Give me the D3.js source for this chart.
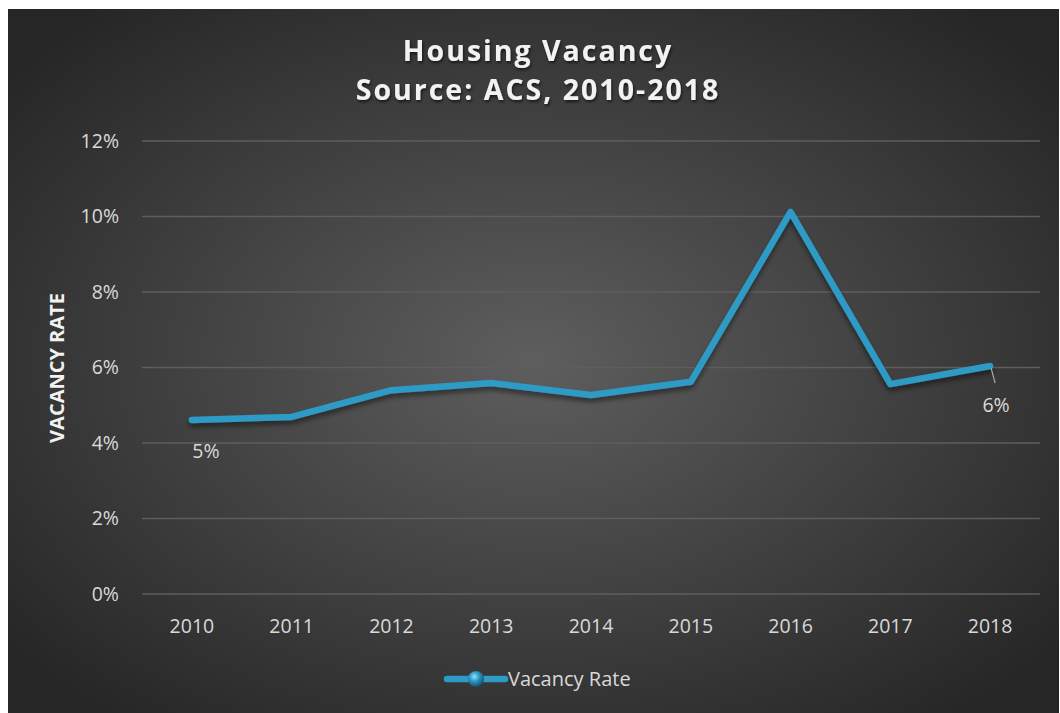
<!DOCTYPE html>
<html>
<head>
<meta charset="utf-8">
<script src="https://cdn.jsdelivr.net/npm/d3@7"></script>
<style>
    body { margin: 0; background: #fff; }
    svg { display: block; font-family: "Open Sans", sans-serif; }
</style>
</head>
<body>
<svg class="linechart" width="1060" height="713"></svg>
<script>
(function () {

    'use strict';

    var years = ['2010', '2011', '2012', '2013', '2014', '2015', '2016', '2017', '2018'];
    var vacancy = [0.0461, 0.0469, 0.0540, 0.0559, 0.0527, 0.0562, 0.1012, 0.0556, 0.0604];
    var yTicks = [0, 0.02, 0.04, 0.06, 0.08, 0.10, 0.12];
    var labelled = ['2010', '2018'];

    var svg = d3.select("svg.linechart");
    var defs = svg.append("defs");

    var grad = defs.append("radialGradient")
        .attr("id", "bg")
        .attr("cx", "50%").attr("cy", "50%").attr("r", "65%");
    grad.append("stop").attr("offset", "0%").attr("stop-color", "#5e5e5e");
    grad.append("stop").attr("offset", "100%").attr("stop-color", "#262626");

    var shadow = defs.append("filter").attr("id", "shadow")
        .attr("x", "-5%").attr("y", "-10%").attr("width", "110%").attr("height", "130%");
    shadow.append("feDropShadow")
        .attr("dx", 0).attr("dy", 4).attr("stdDeviation", 2.5)
        .attr("flood-color", "#000").attr("flood-opacity", 0.45);

    var titleShadow = defs.append("filter").attr("id", "tshadow");
    titleShadow.append("feDropShadow")
        .attr("dx", 1).attr("dy", 2).attr("stdDeviation", 1.5)
        .attr("flood-color", "#000").attr("flood-opacity", 0.6);

    var ball = defs.append("radialGradient").attr("id", "ball")
        .attr("cx", "40%").attr("cy", "35%").attr("r", "65%");
    ball.append("stop").attr("offset", "0%").attr("stop-color", "#9fdcf5");
    ball.append("stop").attr("offset", "45%").attr("stop-color", "#2b9bc9");
    ball.append("stop").attr("offset", "100%").attr("stop-color", "#14506b");

    svg.append("rect")
        .attr("x", 8).attr("y", 9)
        .attr("width", 1051).attr("height", 704)
        .attr("fill", "url(#bg)");

    var margin = { top: 141, right: 20, bottom: 119, left: 142 };
    var width = 1040 - margin.left;
    var height = 594 - margin.top;
    var g = svg.append("g").attr("transform", "translate(" + margin.left + "," + margin.top + ")");

    var x = d3.scaleBand().domain(years).range([0, width]);
    var y = d3.scaleLinear().domain([0, 0.12]).range([height, 0]);
    var cx = function (d) { return x(d) + x.bandwidth() / 2; };

    // gridlines
    g.append("g")
        .selectAll("line")
        .data(yTicks)
        .enter().append("line")
        .attr("x1", 0).attr("x2", width)
        .attr("y1", function (d) { return y(d); })
        .attr("y2", function (d) { return y(d); })
        .attr("stroke", "#5e5e5e")
        .attr("stroke-width", 1.5);

    var yAxis = g.append("g")
        .call(d3.axisLeft(y).tickValues(yTicks).tickFormat(d3.format(".0%")).tickSize(0).tickPadding(23));
    yAxis.select(".domain").remove();
    yAxis.selectAll("text")
        .attr("fill", "#d9d9d9")
        .attr("font-size", 19.5)
        .attr("font-family", "Open Sans, sans-serif");

    var xAxis = g.append("g")
        .attr("transform", "translate(0," + height + ")")
        .call(d3.axisBottom(x).tickSize(0).tickPadding(25));
    xAxis.select(".domain").remove();
    xAxis.selectAll("text")
        .attr("fill", "#d9d9d9")
        .attr("font-size", 19.5)
        .attr("font-family", "Open Sans, sans-serif");

    var line = d3.line()
        .x(function (d, i) { return cx(years[i]); })
        .y(function (d) { return y(d); });

    g.append("path")
        .datum(vacancy)
        .attr("d", line)
        .attr("fill", "none")
        .attr("stroke", "#2e9bc6")
        .attr("stroke-width", 6.5)
        .attr("stroke-linejoin", "round")
        .attr("stroke-linecap", "round")
        .attr("filter", "url(#shadow)");

    // data labels for first and last
    var fmt = d3.format(".0%");
    var i0 = years.indexOf(labelled[0]);
    g.append("text")
        .attr("x", cx(labelled[0]) + 14)
        .attr("y", y(vacancy[i0]) + 38)
        .attr("text-anchor", "middle")
        .attr("fill", "#d9d9d9")
        .attr("font-size", 19.5)
        .text(fmt(vacancy[i0]));

    var i1 = years.indexOf(labelled[1]);
    g.append("line")
        .attr("x1", cx(labelled[1]) + 1).attr("y1", y(vacancy[i1]) + 2)
        .attr("x2", cx(labelled[1]) + 5).attr("y2", y(vacancy[i1]) + 17)
        .attr("stroke", "#a6a6a6")
        .attr("stroke-width", 1.2);
    g.append("text")
        .attr("x", cx(labelled[1]) + 6)
        .attr("y", y(vacancy[i1]) + 46)
        .attr("text-anchor", "middle")
        .attr("fill", "#d9d9d9")
        .attr("font-size", 19.5)
        .text(fmt(vacancy[i1]));

    // titles
    var title = svg.append("text")
        .attr("text-anchor", "middle")
        .attr("fill", "#f2f2f2")
        .attr("font-weight", "bold")
        .attr("font-size", 28.5)
        .attr("letter-spacing", 2)
        .attr("filter", "url(#tshadow)");
    title.append("tspan").attr("x", 538).attr("y", 61).text("Housing Vacancy");
    title.append("tspan").attr("x", 538).attr("y", 100).text("Source: ACS, 2010-2018");

    svg.append("text")
        .attr("transform", "translate(64,368) rotate(-90)")
        .attr("text-anchor", "middle")
        .attr("fill", "#f2f2f2")
        .attr("font-weight", "bold")
        .attr("font-size", 20)
        .text("VACANCY RATE");

    // legend
    var legend = svg.append("g").attr("transform", "translate(447,679)");
    legend.append("line")
        .attr("x1", 0).attr("x2", 58)
        .attr("stroke", "#2e9bc6")
        .attr("stroke-width", 6.5)
        .attr("stroke-linecap", "round");
    legend.append("circle")
        .attr("cx", 29).attr("r", 8)
        .attr("fill", "url(#ball)");
    legend.append("text")
        .attr("x", 61)
        .attr("dy", "0.35em")
        .attr("fill", "#d9d9d9")
        .attr("font-size", 20)
        .text("Vacancy Rate");
})();
</script>
</body>
</html>
